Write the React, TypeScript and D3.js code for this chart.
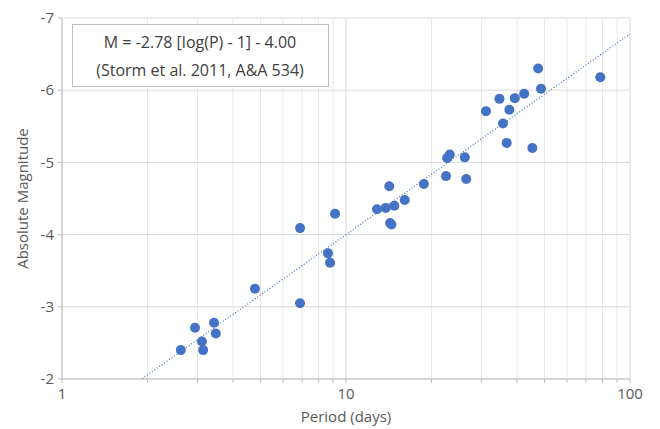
import React from "react";
import * as d3 from "d3";

// period (days) and absolute magnitude of each Cepheid
const periods = [
  2.62, 2.94, 3.11, 3.14, 3.43, 3.48, 4.78, 6.89, 6.89, 8.64, 8.79, 9.15,
  12.86, 13.8, 14.2, 14.3, 14.45, 14.8, 16.1, 18.8, 22.5, 22.7, 23.2, 26.2,
  26.5, 31.1, 34.7, 35.7, 36.8, 37.6, 39.3, 42.4, 45.3, 47.5, 48.6, 78.6,
];
const magnitudes = [
  -2.4, -2.71, -2.52, -2.4, -2.78, -2.63, -3.25, -4.09, -3.05, -3.74, -3.61,
  -4.29, -4.35, -4.37, -4.67, -4.16, -4.14, -4.4, -4.48, -4.7, -4.81, -5.06,
  -5.11, -5.07, -4.77, -5.71, -5.88, -5.54, -5.27, -5.73, -5.89, -5.95, -5.2,
  -6.3, -6.02, -6.18,
];

const yTicks = [-7, -6, -5, -4, -3, -2];
const xTickLabels = [1, 10, 100];
const fitEnds = [1.914, 100];
const legendLines = ["M = -2.78 [log(P) - 1] - 4.00", "(Storm et al. 2011, A&A 534)"];

const W = 660;
const H = 429;
const margin = { top: 18, right: 30, bottom: 50, left: 62 };
const blue = "#4472c4";
const font = "'Open Sans', 'Noto Sans', sans-serif";

const fit = (p: number) => -2.78 * (Math.log10(p) - 1) - 4.0;

export default function App() {
  const x = d3.scaleLog().domain([1, 100]).range([margin.left, W - margin.right]);
  const y = d3.scaleLinear().domain([-2, -7]).range([H - margin.bottom, margin.top]);

  const minor = d3.range(1, 3).flatMap((e) =>
    d3.range(2, 10).map((m) => m * Math.pow(10, e - 1))
  );
  const line = d3
    .line<number>()
    .x((p) => x(p))
    .y((p) => y(fit(p)));
  const fitPts = d3.range(0, 41).map((i) =>
    Math.pow(10, Math.log10(fitEnds[0]) + (i / 40) * (Math.log10(fitEnds[1]) - Math.log10(fitEnds[0])))
  );

  const [x0, x1] = x.range();
  const [yb, yt] = y.range();

  return (
    <svg width={W} height={H} style={{ position: "absolute", left: 0, top: 0 }}>
      <rect width={W} height={H} fill="#fff" />
      {minor.map((v) => (
        <line key={"gv" + v} x1={x(v)} x2={x(v)} y1={yt} y2={yb} stroke="#e8e8e8" />
      ))}
      {xTickLabels.map((v) => (
        <line key={"gm" + v} x1={x(v)} x2={x(v)} y1={yt} y2={yb} stroke="#d9d9d9" />
      ))}
      {yTicks.map((v) => (
        <line key={"gh" + v} x1={x0} x2={x1} y1={y(v)} y2={y(v)} stroke="#d9d9d9" />
      ))}
      {/* axes */}
      <line x1={x0} x2={x0} y1={yt} y2={yb} stroke="#bfbfbf" />
      <line x1={x0} x2={x1} y1={yb} y2={yb} stroke="#bfbfbf" />
      {minor.concat(xTickLabels).map((v) => (
        <line key={"tx" + v} x1={x(v)} x2={x(v)} y1={yb} y2={yb + 4} stroke="#bfbfbf" />
      ))}
      {yTicks.map((v) => (
        <line key={"ty" + v} x1={x0 - 4} x2={x0} y1={y(v)} y2={y(v)} stroke="#bfbfbf" />
      ))}
      {yTicks.map((v) => (
        <text key={"ly" + v} x={x0 - 8} y={y(v)} dy="0.35em" textAnchor="end"
          fontFamily={font} fontSize={15} fill="#595959">{v}</text>
      ))}
      {xTickLabels.map((v) => (
        <text key={"lx" + v} x={x(v)} y={yb + 20} textAnchor="middle"
          fontFamily={font} fontSize={15} fill="#595959">{v}</text>
      ))}
      <text x={(x0 + x1) / 2} y={H - 7} textAnchor="middle" fontFamily={font}
        fontSize={15} fill="#595959">Period (days)</text>
      <text transform={`translate(28,${(yt + yb) / 2}) rotate(-90)`} textAnchor="middle"
        fontFamily={font} fontSize={15} fill="#595959">Absolute Magnitude</text>

      <path d={line(fitPts) || ""} fill="none" stroke={blue} strokeWidth={1.2}
        strokeDasharray="1 2" />
      {periods.map((p, i) => (
        <circle key={"c" + i} cx={x(p)} cy={y(magnitudes[i])} r={5} fill={blue} />
      ))}

      <rect x={72.5} y={24.5} width={256} height={62} fill="#fff" stroke="#bfbfbf" />
      {legendLines.map((t, i) => (
        <text key={"lg" + i} x={200} y={48 + i * 28} textAnchor="middle" fontFamily={font}
          fontSize={16} fill="#404040">{t}</text>
      ))}
    </svg>
  );
}
